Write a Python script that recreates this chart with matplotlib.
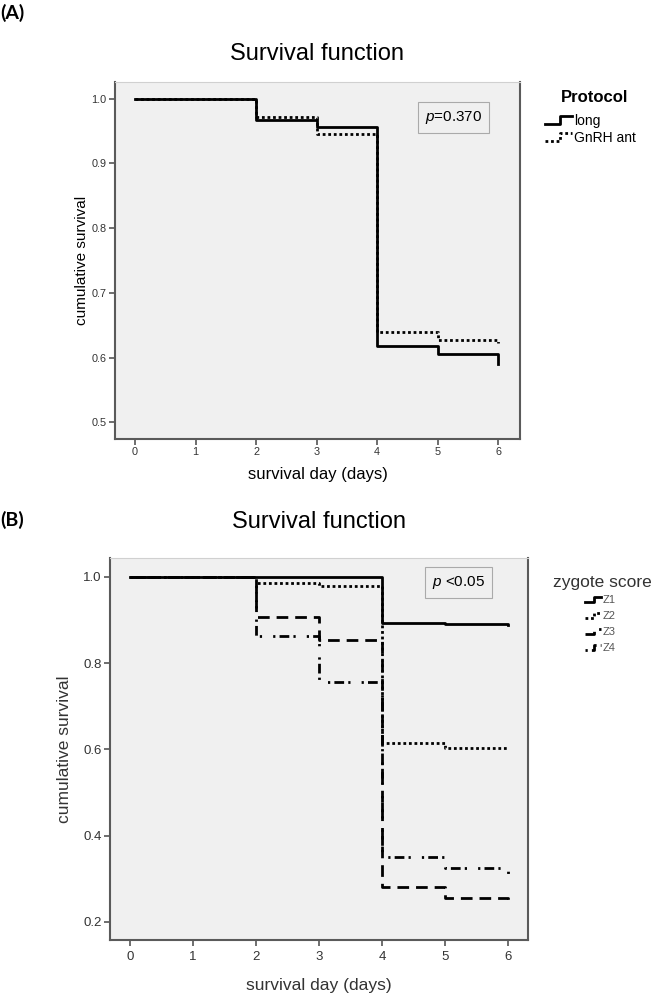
import matplotlib
matplotlib.use("Agg")
import matplotlib.pyplot as plt
from matplotlib.lines import Line2D

plt.rcParams['font.family'] = ['Liberation Sans', 'DejaVu Sans']
plt.rcParams['mathtext.fontset'] = 'custom'
plt.rcParams['mathtext.it'] = 'Liberation Sans:italic'
plt.rcParams['mathtext.rm'] = 'Liberation Sans'

# survival days (event times)
days = [0, 2, 3, 4, 5, 6]

# panel A: protocol
long_surv = [1.0, 0.968, 0.957, 0.618, 0.605, 0.590]
gnrh_surv = [1.0, 0.972, 0.945, 0.639, 0.627, 0.623]
protocol_labels = ['long', 'GnRH ant']

# panel B: zygote score
z1_surv = [1.0, 1.0, 1.0, 0.893, 0.890, 0.889]
z2_surv = [1.0, 0.987, 0.980, 0.614, 0.603, 0.600]
z3_surv = [1.0, 0.907, 0.853, 0.280, 0.255, 0.240]
z4_surv = [1.0, 0.862, 0.756, 0.350, 0.325, 0.310]
zygote_labels = ['Z1', 'Z2', 'Z3', 'Z4']

xticks = [0, 1, 2, 3, 4, 5, 6]
yticks_a = [0.5, 0.6, 0.7, 0.8, 0.9, 1.0]
yticks_b = [0.2, 0.4, 0.6, 0.8, 1.0]
p_a = '$\\it{p}$=0.370'
p_b = '$\\it{p}$ <0.05'

styles = ['-', (0, (1, 1)), (0, (4.2, 2.5)), (0, (0.8, 1.5, 3.5, 1.5, 0.8, 4))]

W, H = 655, 996
fig = plt.figure(figsize=(W / 100, H / 100), dpi=100)


def setup_axes(ax, ylim, xlim, yticks, tick_fs):
    ax.set_facecolor('#f0f0f0')
    ax.set_xlim(*xlim)
    ax.set_ylim(*ylim)
    ax.set_xticks(xticks)
    ax.set_yticks(yticks)
    ax.set_yticklabels(['%.1f' % v for v in yticks])
    ax.tick_params(direction='out', length=4, width=1.2, color='#555555',
                   labelsize=tick_fs, labelcolor='#333333', pad=2)
    for side in ['left', 'bottom', 'right']:
        ax.spines[side].set_color('#5a5a5a')
        ax.spines[side].set_linewidth(1.5)
    ax.spines['top'].set_color('#d0d0d0')
    ax.spines['top'].set_linewidth(0.8)


def box(l, t, r, b):
    return [l / W, 1 - b / H, (r - l) / W, (b - t) / H]


def step_legend(x0, y_list, labels, glyph_w, glyph_h, fs, color, lw):
    # SPSS style legend: small step glyph + label, placed in pixel coords
    for i, (y, lab) in enumerate(zip(y_list, labels)):
        xs = [x0, x0 + glyph_w * 0.55, x0 + glyph_w * 0.55, x0 + glyph_w]
        ys = [y + glyph_h * 0.4, y + glyph_h * 0.4, y - glyph_h * 0.6, y - glyph_h * 0.6]
        fig.add_artist(Line2D([x / W for x in xs], [1 - v / H for v in ys],
                              transform=fig.transFigure, color='black', lw=lw, ls=styles[i]))
        fig.text((x0 + glyph_w + 2) / W, 1 - y / H, lab, ha='left', va='center',
                 fontsize=fs, color=color)


# ---------- panel A ----------
axA = fig.add_axes(box(115, 82, 520, 439))
setup_axes(axA, (0.474, 1.026), (-0.33, 6.36), yticks_a, 7.8)
axA.step(days, long_surv, where='post', color='black', lw=2, ls=styles[0])
axA.step(days, gnrh_surv, where='post', color='black', lw=2, ls=styles[1])
axA.set_xlabel('survival day (days)', fontsize=12, color='black', labelpad=7)
axA.set_ylabel('cumulative survival', fontsize=11, color='black', labelpad=2)
axA.text(0.835, 0.90, p_a, transform=axA.transAxes, ha='center', va='center',
         fontsize=11, bbox=dict(boxstyle='square,pad=0.45', fc='#f0f0f0', ec='#aaaaaa', lw=0.8))
fig.text(317 / W, 1 - 54 / H, 'Survival function', ha='center', va='center', fontsize=17)
fig.text(0.0, 1 - 13 / H, '(A)', ha='left', va='center', fontsize=14,
         fontweight='bold', family=['Lato', 'DejaVu Sans'])
fig.text(595 / W, 1 - 97 / H, 'Protocol', ha='center', va='center', fontsize=12,
         fontweight='bold')
step_legend(545, [121, 138], protocol_labels, 27, 8, 10, 'black', 2)

# ---------- panel B ----------
axB = fig.add_axes(box(110, 558, 528, 940))
setup_axes(axB, (0.158, 1.044), (-0.32, 6.32), yticks_b, 9.5)
axB.tick_params(axis='x', pad=4)
series_b = [z1_surv, z2_surv, z3_surv, z4_surv]
for i, s in enumerate(series_b):
    axB.step(days, s, where='post', color='black', lw=2, ls=styles[i])
axB.set_xlabel('survival day (days)', fontsize=12.5, color='#333333', labelpad=11)
axB.set_ylabel('cumulative survival', fontsize=12.5, color='#333333', labelpad=8)
axB.text(0.833, 0.935, p_b, transform=axB.transAxes, ha='center', va='center',
         fontsize=11, bbox=dict(boxstyle='square,pad=0.45', fc='#f0f0f0', ec='#aaaaaa', lw=0.8))
fig.text(319 / W, 1 - 522 / H, 'Survival function', ha='center', va='center', fontsize=17)
fig.text(0.0, 1 - 520 / H, '(B)', ha='left', va='center', fontsize=14,
         fontweight='bold', family=['Lato', 'DejaVu Sans'])
fig.text(553 / W, 1 - 582 / H, 'zygote score', ha='left', va='center', fontsize=12.5,
         color='#333333')
step_legend(585, [600, 616, 632, 648], zygote_labels, 16, 5, 8, '#555555', 2)

fig.savefig('out.png', dpi=100)
